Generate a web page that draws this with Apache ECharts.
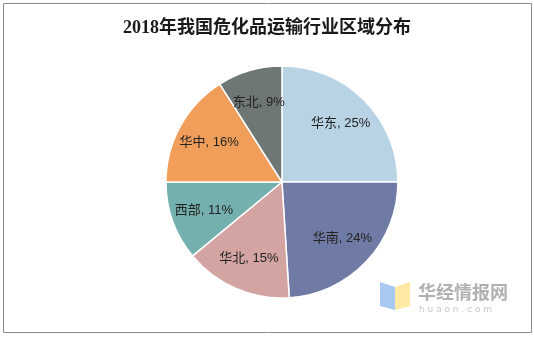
<!DOCTYPE html>
<html>
<head>
<meta charset="utf-8">
<script src="https://cdn.jsdelivr.net/npm/echarts@6/dist/echarts.min.js"></script>
<style>
html,body{margin:0;padding:0;background:#fff;}
#chart{width:534px;height:337px;}
</style>
</head>
<body>
<div id="chart"></div>
<script>
// Regional share of hazardous-chemical transport, 2018 (%)
const regions = ['华东', '华南', '华北', '西部', '华中', '东北'];
const shares = [25, 24, 15, 11, 16, 9];
const sliceColors = ['#b8d3e4', '#6f7ba4', '#d3a4a2', '#74b1ae', '#f29e5b', '#6e7773'];

const chart = echarts.init(document.getElementById('chart'), null, { renderer: 'canvas' });

const pieData = regions.map((name, i) => ({
  name: name,
  value: shares[i],
  itemStyle: { color: sliceColors[i] }
}));

const center = ['52.8%', '54%'];
const R = 116;

chart.setOption({
  backgroundColor: '#ffffff',
  animation: false,
  title: {
    text: '2018年我国危化品运输行业区域分布',
    left: 'center',
    top: 14,
    textStyle: {
      fontFamily: '"Liberation Serif", "Noto Sans CJK SC", serif',
      fontSize: 18,
      fontWeight: 'bold',
      color: '#1a1a1a'
    }
  },
  series: [
    {
      // slices
      type: 'pie',
      center: center,
      radius: [0, R],
      startAngle: 90,
      clockwise: true,
      silent: true,
      label: { show: false },
      labelLine: { show: false },
      itemStyle: { borderColor: '#ffffff', borderWidth: 1.5 },
      data: pieData
    },
    {
      // transparent twin used only to push labels further out along each bisector
      type: 'pie',
      center: center,
      radius: [0, R * 1.38],
      startAngle: 90,
      clockwise: true,
      silent: true,
      itemStyle: { color: 'rgba(0,0,0,0)' },
      label: {
        show: true,
        position: 'inside',
        formatter: p => p.name + ', ' + p.value + '%',
        fontFamily: '"Liberation Sans", "Noto Sans CJK SC", sans-serif',
        fontSize: 13,
        color: '#222222'
      },
      labelLine: { show: false },
      data: regions.map((name, i) => ({ name: name, value: shares[i] }))
    }
  ],
  graphic: [
    {
      type: 'rect',
      shape: { x: 3.5, y: 3.5, width: 528, height: 329 },
      style: { fill: 'none', stroke: '#8c8c8c', lineWidth: 1 },
      silent: true
    },
    {
      type: 'polygon',
      shape: { points: [[380, 282], [395, 287], [395, 310], [380, 306]] },
      style: { fill: '#a9c9f2' },
      silent: true
    },
    {
      type: 'polygon',
      shape: { points: [[395, 287], [410, 282], [410, 306], [395, 310]] },
      style: { fill: '#fde8a4' },
      silent: true
    },
    {
      type: 'text',
      left: 418,
      top: 283,
      style: {
        text: '华经情报网',
        fontFamily: '"Noto Sans CJK SC", sans-serif',
        fontSize: 18,
        fontWeight: 'bold',
        fill: '#b0b0b0'
      },
      silent: true
    },
    {
      type: 'text',
      left: 419,
      top: 305,
      style: {
        text: 'h u a o n . c o m',
        fontFamily: '"DejaVu Sans", sans-serif',
        fontSize: 9,
        fill: '#c8c8c8'
      },
      silent: true
    }
  ]
});
</script>
</body>
</html>
